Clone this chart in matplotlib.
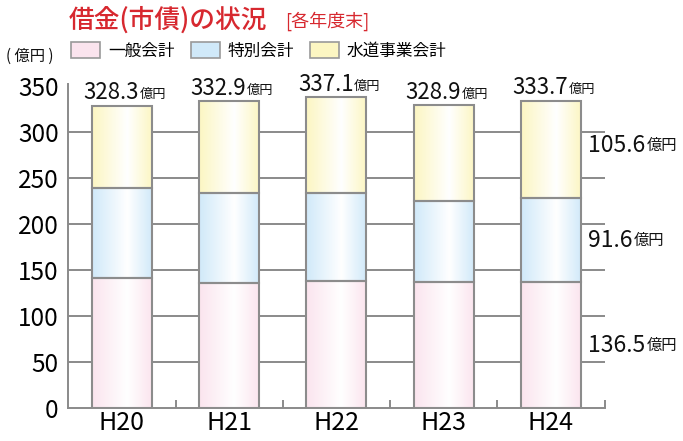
import numpy as np
import matplotlib
matplotlib.use("Agg")
import matplotlib.pyplot as plt
from matplotlib.colors import LinearSegmentedColormap
from matplotlib.patches import Patch

plt.rcParams['font.family'] = ['Noto Sans CJK JP', 'DejaVu Sans']

categories = ['H20', 'H21', 'H22', 'H23', 'H24']
general = [141.3, 136.2, 138.1, 137.3, 136.5]
special = [97.3, 97.0, 95.1, 87.5, 91.6]
water = [89.7, 99.7, 103.9, 104.1, 105.6]
totals = [328.3, 332.9, 337.1, 328.9, 333.7]
total_labels = ['328.3', '332.9', '337.1', '328.9', '333.7']
series_names = ['一般会計', '特別会計', '水道事業会計']
right_labels = ['136.5', '91.6', '105.6']
yticks = [0, 50, 100, 150, 200, 250, 300, 350]

colors = ['#fbe4ee', '#d0e9f9', '#fcf6c2']
edge = '#8c8c8c'
red = '#d7282f'

fig = plt.figure(figsize=(6.83, 4.41), dpi=100)
ax = fig.add_axes([68.3 / 683, (441 - 408.3) / 441, (604.5 - 68.3) / 683, (408.3 - 84) / 441])

x = np.arange(len(categories))
width = 0.56
bottoms = np.zeros(len(categories))
for vals, col in zip([general, special, water], colors):
    bc = ax.bar(x, vals, width, bottom=bottoms, facecolor='none', edgecolor=edge,
                linewidth=1.5, zorder=3)
    cmap = LinearSegmentedColormap.from_list('g', [(0, col), (0.58, '#ffffff'), (1, col)])
    grad = np.linspace(0, 1, 256).reshape(1, -1)
    for p in bc.patches:
        x0, y0 = p.get_x(), p.get_y()
        im = ax.imshow(grad, cmap=cmap, extent=(x0, x0 + p.get_width(), y0, y0 + p.get_height()),
                       aspect='auto', zorder=2, interpolation='bilinear')
        im.set_clip_path(p)
    bottoms = bottoms + np.array(vals)

ax.set_xlim(-0.5, len(categories) - 0.5)
ax.set_ylim(0, 351.7)

ax.hlines(yticks[1:-1], -0.5, len(categories) - 0.5, colors='#8a8a8a', linewidth=1.4, zorder=1)

for s in ['top', 'right']:
    ax.spines[s].set_visible(False)
for s in ['left', 'bottom']:
    ax.spines[s].set_color('#8a8a8a')
    ax.spines[s].set_linewidth(1.4)

ax.set_yticks(yticks)
ax.set_yticklabels([str(v) for v in yticks], fontsize=17.5)
ax.tick_params(axis='y', length=0, pad=7)
ax.set_xticks(x)
ax.set_xticklabels(categories, fontsize=18)
ax.tick_params(axis='x', length=0, pad=1)
ax.set_xticks(np.arange(len(categories)) + 0.5, minor=True)
ax.tick_params(axis='x', which='minor', direction='in', length=6, width=1.4, color='#8a8a8a')

for xi, tot, lab in zip(x, totals, total_labels):
    t = ax.annotate(lab, xy=(xi + 0.16, tot), xytext=(0, 4.5), textcoords='offset points',
                    ha='right', va='baseline', fontsize=16, color='#111111')
    ax.annotate('億円', xy=(1, 0), xycoords=t, xytext=(0.5, 2.2), textcoords='offset points',
                ha='left', va='bottom', fontsize=9.5, color='#111111')

last = len(categories) - 1
mids = [general[last] / 2, general[last] + special[last] / 2,
        general[last] + special[last] + water[last] / 2 + 4]
for lab, m in zip(right_labels, mids):
    t = ax.text(4.35, m, lab, ha='left', va='center', fontsize=16.5, color='#111111')
    ax.annotate('億円', xy=(1, 0), xycoords=t, xytext=(0.5, 2.0), textcoords='offset points',
                ha='left', va='bottom', fontsize=11, color='#111111')

handles = [Patch(facecolor=c, edgecolor='#999999', linewidth=1.2) for c in colors]
fig.legend(handles, series_names, loc='upper left', bbox_to_anchor=(71 / 683, 1 - 42 / 441),
           ncol=3, frameon=False, fontsize=12, handlelength=1.74, handleheight=1.14,
           handletextpad=0.48, columnspacing=0.96, borderpad=0, borderaxespad=0)

fig.text(6 / 683, 1 - 56 / 441, '( 億円 )', fontsize=11, ha='left', va='center', color='#111111')

fig.text(69 / 683, 1 - 20 / 441, '借金(市債)の状況', fontsize=18.5, fontweight='medium', color=red,
         ha='left', va='center')
fig.text(285 / 683, 1 - 21 / 441, '[各年度末]', fontsize=13, color=red, ha='left', va='center')

fig.savefig('out.png', dpi=100)
